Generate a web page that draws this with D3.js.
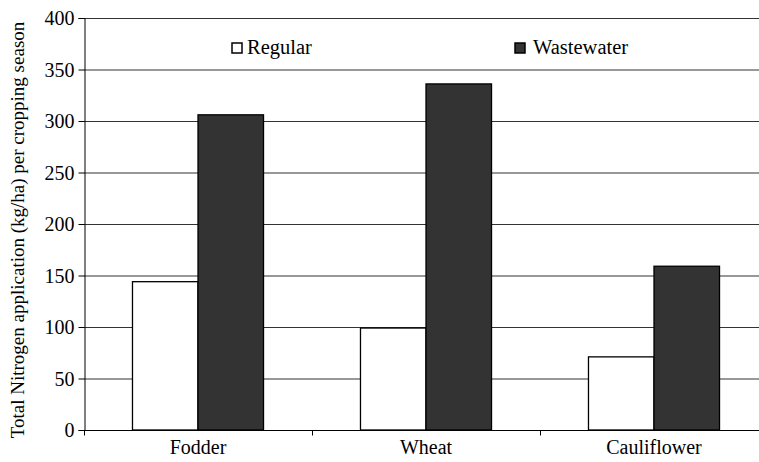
<!DOCTYPE html>
<html>
<head>
<meta charset="utf-8">
<script src="https://cdn.jsdelivr.net/npm/d3@7"></script>
<style>
  body { margin: 0; background: #fff; }
</style>
</head>
<body>
<div id="chart"></div>
<script>
const crops = ["Fodder", "Wheat", "Cauliflower"];
const series = ["Regular", "Wastewater"];
const regular = [144, 99, 71];
const wastewater = [306, 336, 159];
const yTicks = [0, 50, 100, 150, 200, 250, 300, 350, 400];

const W = 759, H = 462;
const margin = { top: 18, right: -9, bottom: 32, left: 84 };
const serif = '"Liberation Serif"';

const svg = d3.select("#chart").append("svg")
  .attr("width", W)
  .attr("height", H);

const y = d3.scaleLinear().domain([0, 400]).range([H - margin.bottom, margin.top]);
const x0 = d3.scaleBand().domain(crops).range([margin.left, W - margin.right]).padding(0);
const x1 = d3.scaleBand().domain(series).range([0, x0.bandwidth()])
  .paddingInner(0).paddingOuter(0.74);
const fill = d3.scaleOrdinal().domain(series).range(["#ffffff", "#333333"]);

// gridlines
svg.append("g")
  .selectAll("line")
  .data(yTicks.filter(d => d > 0))
  .join("line")
  .attr("x1", margin.left)
  .attr("x2", W)
  .attr("y1", d => y(d) + 0.5)
  .attr("y2", d => y(d) + 0.5)
  .attr("stroke", "#333")
  .attr("stroke-width", 1.2);

// bars
const rows = crops.map((c, i) => ({ crop: c, values: [regular[i], wastewater[i]] }));
svg.append("g")
  .selectAll("g")
  .data(rows)
  .join("g")
  .attr("transform", d => `translate(${x0(d.crop)},0)`)
  .selectAll("rect")
  .data(d => series.map((s, j) => ({ key: s, value: d.values[j] })))
  .join("rect")
  .attr("x", d => x1(d.key))
  .attr("y", d => y(d.value))
  .attr("width", x1.bandwidth())
  .attr("height", d => y(0) - y(d.value))
  .attr("fill", d => fill(d.key))
  .attr("stroke", "#000")
  .attr("stroke-width", 1.3);

// y axis
const yAxis = svg.append("g")
  .attr("transform", `translate(${margin.left + 0.5},0)`)
  .call(d3.axisLeft(y).tickValues(yTicks).tickSize(6).tickPadding(4));
yAxis.selectAll("text")
  .attr("font-family", serif)
  .attr("font-size", 20)
  .attr("fill", "#000")
  .attr("dy", "0.34em");
yAxis.selectAll("line, path").attr("stroke", "#000");

// x axis
const xAxis = svg.append("g")
  .attr("transform", `translate(0,${y(0) + 0.5})`)
  .call(d3.axisBottom(x0).tickSize(0).tickPadding(9));
xAxis.select("path").remove();
xAxis.selectAll("text")
  .attr("font-family", serif)
  .attr("font-size", 20)
  .attr("fill", "#000");
xAxis.append("line")
  .attr("x1", margin.left).attr("x2", W)
  .attr("stroke", "#000");
xAxis.selectAll(".bound")
  .data(crops)
  .join("line")
  .attr("class", "bound")
  .attr("x1", d => x0(d) + 0.5)
  .attr("x2", d => x0(d) + 0.5)
  .attr("y1", 0)
  .attr("y2", 5)
  .attr("stroke", "#000");

// y axis title
svg.append("text")
  .attr("transform", "translate(24,230) rotate(-90)")
  .attr("text-anchor", "middle")
  .attr("font-family", serif)
  .attr("font-size", 19)
  .text("Total Nitrogen application (kg/ha) per cropping season");

// legend
const legendX = [232, 515];
const legend = svg.append("g")
  .selectAll("g")
  .data(series)
  .join("g")
  .attr("transform", (d, i) => `translate(${legendX[i]},43)`);
legend.append("rect")
  .attr("width", 10)
  .attr("height", 10)
  .attr("fill", d => fill(d))
  .attr("stroke", "#000")
  .attr("stroke-width", 1.5);
legend.append("text")
  .attr("x", (d, i) => i === 0 ? 15 : 18)
  .attr("y", 11)
  .attr("font-family", serif)
  .attr("font-size", 20.5)
  .text(d => d);
</script>
</body>
</html>
